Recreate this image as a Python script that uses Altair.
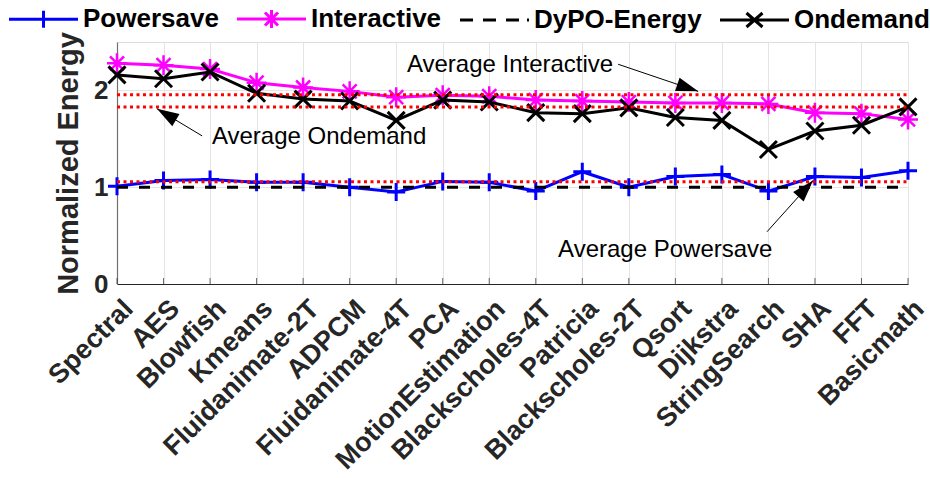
import math

import altair as alt
import pandas as pd

FONT = "Liberation Sans"
TEXT_DARK = "#262626"

# Benchmarks on the x axis
benchmarks = [
    "Spectral", "AES", "Blowfish", "Kmeans", "Fluidanimate-2T", "ADPCM",
    "Fluidanimate-4T", "PCA", "MotionEstimation", "Blackscholes-4T",
    "Patricia", "Blackscholes-2T", "Qsort", "Dijkstra", "StringSearch",
    "SHA", "FFT", "Basicmath",
]

# Energy of each governor, normalized to DyPO
powersave = [1.01, 1.07, 1.08, 1.05, 1.05, 1.00, 0.95, 1.06, 1.05,
             0.96, 1.16, 1.00, 1.11, 1.13, 0.96, 1.11, 1.10, 1.17]
interactive = [2.28, 2.26, 2.22, 2.08, 2.03, 1.99, 1.93, 1.95, 1.94,
               1.90, 1.89, 1.88, 1.87, 1.87, 1.86, 1.77, 1.76, 1.70]
dypo_energy = [1.00, 1.00, 1.00, 1.00, 1.00, 1.00, 1.00, 1.00, 1.00,
               1.00, 1.00, 1.00, 1.00, 1.00, 1.00, 1.00, 1.00, 1.00]
ondemand = [2.16, 2.12, 2.19, 1.97, 1.91, 1.89, 1.69, 1.90, 1.88,
            1.77, 1.76, 1.82, 1.72, 1.69, 1.39, 1.58, 1.64, 1.83]

series_names = ["Powersave", "Interactive", "DyPO-Energy", "Ondemand"]
series_colors = ["#0000ff", "#ff00ff", "#000000", "#000000"]
series_values = [powersave, interactive, dypo_energy, ondemand]

# Annotation labels and arrows (data coordinates: benchmark index, energy)
note_texts = ["Average Interactive", "Average Ondemand", "Average Powersave"]
note_x = [6.23, 2.04, 9.48]
note_y = [2.26, 1.52, 0.35]
arrow_x0 = [10.77, 1.83, 13.97]
arrow_y0 = [2.27, 1.53, 0.54]
arrow_x1 = [12.49, 0.86, 14.96]
arrow_y1 = [1.99, 1.81, 1.07]

W, H = 791, 242
Y_MAX = 2.5
N = len(benchmarks)

rows = []
for name, vals in zip(series_names, series_values):
    for i, v in enumerate(vals):
        rows.append({"series": name, "idx": i, "val": v})
df = pd.DataFrame(rows)

avg_df = pd.DataFrame({
    "series": ["Powersave", "Interactive", "Ondemand"],
    "val": [sum(powersave) / N, sum(interactive) / N, sum(ondemand) / N],
    "idx": [0, 0, 0],
    "idx_end": [N - 1, N - 1, N - 1],
})

notes_df = pd.DataFrame({"text": note_texts, "idx": note_x, "val": note_y})

px_x = W / (N - 1)
px_y = H / Y_MAX
angles = [
    math.degrees(math.atan2(-(y1 - y0) * px_y, (x1 - x0) * px_x)) % 360
    for x0, y0, x1, y1 in zip(arrow_x0, arrow_y0, arrow_x1, arrow_y1)
]
arrows_df = pd.DataFrame({
    "idx": arrow_x0, "val": arrow_y0,
    "idx_end": arrow_x1, "val_end": arrow_y1,
    "tip_idx": arrow_x1, "tip_val": arrow_y1,
    "angle": angles,
})

label_expr = "[" + ",".join("'%s'" % b for b in benchmarks) + "][datum.value]"

x_axis = alt.Axis(
    values=list(range(N)), labelExpr=label_expr, title=None,
    grid=True, gridColor="#e4e4e4", gridWidth=1,
    ticks=False, domainColor=TEXT_DARK, domainWidth=1.2,
    labelAngle=-45, labelAlign="right", labelBaseline="alphabetic",
    labelFont=FONT, labelFontSize=27, labelFontWeight="bold",
    labelColor=TEXT_DARK, labelPadding=26, labelOffset=17, labelLimit=400,
    labelOverlap=False, labelFlush=False, labelBound=False,
)
y_axis = alt.Axis(
    values=[0, 1, 2], title="Normalized Energy",
    titleFont=FONT, titleFontSize=29, titleFontWeight="bold",
    titleColor=TEXT_DARK, titleAngle=270, titleX=-49, titleY=H / 2,
    titleAlign="center", titleBaseline="middle",
    grid=True, gridColor="#e4e4e4", gridWidth=1,
    ticks=False, domainColor="#707070", domainWidth=1.2,
    labelFont=FONT, labelFontSize=26, labelFontWeight="bold",
    labelColor=TEXT_DARK, labelPadding=9,
)
x_scale = alt.Scale(domain=[0, N - 1], nice=False, zero=False)
y_scale = alt.Scale(domain=[0, Y_MAX], nice=False)


def X(field="idx"):
    return alt.X(f"{field}:Q", scale=x_scale, axis=x_axis)


def Y(field="val"):
    return alt.Y(f"{field}:Q", scale=y_scale, axis=y_axis)


base = alt.Chart(df)

# marker outlines, unit-sized SVG paths
PLUS = "M-1,0H1M0,-1V1"
ASTERISK = "M-1,0H1M0,-1V1M-0.7,-0.7L0.7,0.7M-0.7,0.7L0.7,-0.7"
XMARK = "M-1,-1L1,1M-1,1L1,-1"
ARROW_HEAD = "M0,0L-1,-0.32L-1,0.32Z"

layers = []

# small inward ticks on the x axis
layers.append(
    base.transform_filter(alt.datum.series == "DyPO-Energy")
    .transform_calculate(zero="0")
    .mark_tick(orient="vertical", size=6, thickness=1, color=TEXT_DARK, yOffset=-3)
    .encode(x=X(), y=alt.Y("zero:Q", scale=y_scale, axis=y_axis))
)


def series_layers(name, color, shape=None, size=None, sw=2.5, dash=None):
    sub = base.transform_filter(alt.datum.series == name)
    line_kw = dict(color=color, strokeWidth=3)
    if dash:
        line_kw["strokeDash"] = dash
    out = [sub.mark_line(**line_kw).encode(x=X(), y=Y())]
    if shape:
        out.append(
            sub.mark_point(shape=shape, size=size, filled=False, opacity=1,
                           color=color, strokeWidth=sw)
            .encode(x=X(), y=Y())
        )
    return out


layers += series_layers("Powersave", "#0000ff", PLUS, 324, 3)
layers += series_layers("Interactive", "#ff00ff", ASTERISK, 400, 2.5)
layers += series_layers("DyPO-Energy", "#000000", dash=[11, 11])
layers += series_layers("Ondemand", "#000000", XMARK, 289, 3)

# dotted average lines
layers.append(
    alt.Chart(avg_df)
    .mark_rule(color="#ff0000", strokeWidth=3, strokeDash=[3, 3.5])
    .encode(x=X(), x2="idx_end:Q", y=Y())
)

# annotation arrows and text
layers.append(
    alt.Chart(arrows_df)
    .mark_rule(color="#000000", strokeWidth=1)
    .encode(x=X(), y=Y(), x2="idx_end:Q", y2="val_end:Q")
)
layers.append(
    alt.Chart(arrows_df)
    .mark_point(shape=ARROW_HEAD, size=1936, filled=True, opacity=1,
                color="#000000", strokeWidth=0)
    .encode(x=X("tip_idx"), y=Y("tip_val"), angle=alt.Angle("angle:Q", scale=None))
)
layers.append(
    alt.Chart(notes_df)
    .mark_text(align="left", baseline="middle", font=FONT, fontSize=24, color="#000000")
    .encode(x=X(), y=Y(), text="text:N")
)

# legend symbols: line with the series marker (unit = 5 px)
legend_paths = [
    "M-1,0H12.8M5.9,-1.7V1.7",
    "M-1,0H12.8M5.9,-1.8V1.8M4.6,-1.3L7.2,1.3M4.6,1.3L7.2,-1.3",
    "M-1,0H1.6M3.6,0H6.2M8.2,0H10.8M12.4,0H12.8",
    "M-1,0H12.8M4.3,-1.4L7.5,1.4M4.3,1.4L7.5,-1.4",
]
legend_kw = dict(
    title=None, orient="none", legendX=-116, legendY=-36, direction="horizontal",
    labelFont=FONT, labelFontSize=26, labelFontWeight="bold", labelColor="#000000",
    labelLimit=400, symbolSize=100, symbolStrokeWidth=3, labelOffset=56,
    columnPadding=10, padding=0, symbolOpacity=1,
)
legend_df = pd.DataFrame({"key": series_names})
layers.append(
    alt.Chart(legend_df)
    .transform_filter("false")
    .mark_point(filled=False, opacity=1, strokeWidth=3)
    .encode(
        color=alt.Color("key:N", scale=alt.Scale(domain=series_names, range=series_colors),
                        legend=alt.Legend(**legend_kw)),
        shape=alt.Shape("key:N", scale=alt.Scale(domain=series_names, range=legend_paths),
                        legend=alt.Legend(**legend_kw)),
    )
)

chart = (
    alt.layer(*layers)
    .properties(
        width=W, height=H,
        autosize=alt.AutoSizeParams(type="none"),
        padding={"left": 117, "top": 42, "right": 22, "bottom": 194},
    )
    .configure_view(stroke=None)
    .configure(background="white")
)

chart.save("out.html", embed_options={"renderer": "svg", "actions": False})
